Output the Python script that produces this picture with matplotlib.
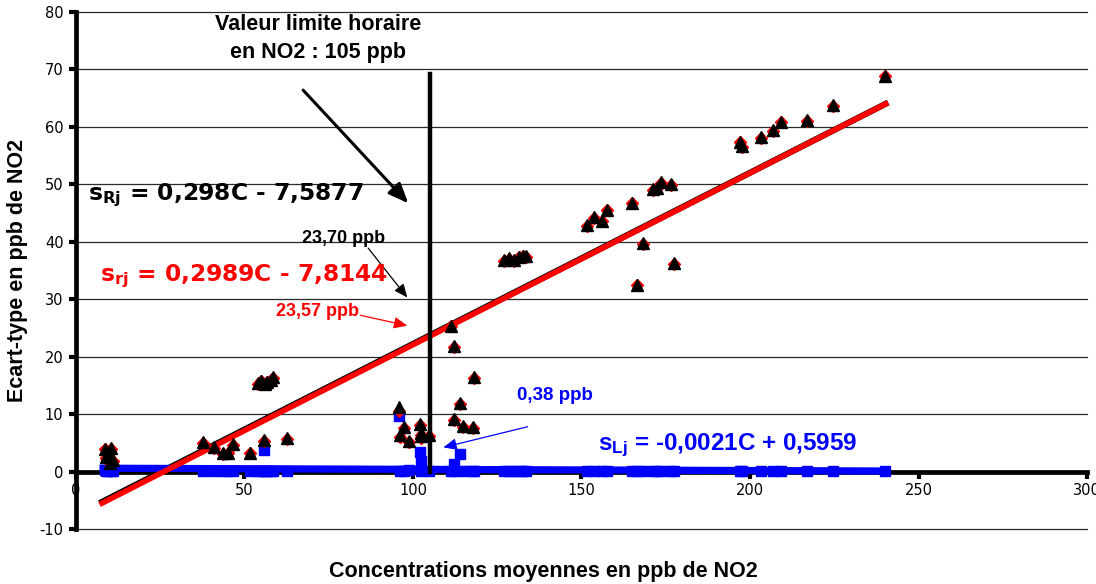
import matplotlib
matplotlib.use("Agg")
import matplotlib.pyplot as plt
import numpy as np

plt.rcParams['font.family'] = ['Liberation Sans', 'DejaVu Sans']
plt.rcParams['mathtext.fontset'] = 'custom'
plt.rcParams['mathtext.rm'] = 'DejaVu Sans:bold'
plt.rcParams['mathtext.it'] = 'DejaVu Sans:bold'
plt.rcParams['mathtext.bf'] = 'DejaVu Sans:bold'
plt.rcParams['mathtext.sf'] = 'Liberation Sans:bold'
plt.rcParams['axes.unicode_minus'] = False

# Concentrations (ppb NO2)
conc = [8.5, 9.0, 9.5, 10.0, 10.5, 11.0,
        37.6, 41.0, 43.5, 45.0, 46.7, 51.7, 54.0, 55.0, 55.9, 56.0, 56.8, 57.8, 58.6, 62.5,
        96.0, 96.2, 97.4, 98.9, 102.2, 102.3, 102.5, 104.7,
        111.4, 112.1, 112.3, 114.1, 114.9, 117.9, 118.2,
        127.0, 128.4, 129.9, 131.4, 132.7, 133.5,
        151.7, 153.7, 156.2, 157.7, 164.9, 166.4, 168.4, 171.3, 172.3, 173.7, 176.5, 177.5,
        197.0, 197.6, 203.4, 206.7, 209.2, 216.9, 224.5, 240.0]
# Reproducibility standard deviation s_Rj
s_R = [4.0, 2.5, 3.0, 1.5, 4.1, 2.0,
       5.1, 4.2, 3.2, 3.3, 4.8, 3.3, 15.4, 15.8, 5.5, 15.3, 15.6, 16.0, 16.4, 5.8,
       11.2, 6.4, 7.8, 5.4, 8.3, 6.7, 6.1, 6.4,
       25.4, 9.2, 21.8, 12.0, 8.0, 7.7, 16.4,
       36.8, 37.1, 36.8, 37.4, 37.6, 37.5,
       42.9, 44.3, 43.7, 45.6, 46.8, 32.5, 39.7, 49.1, 49.4, 50.4, 50.0, 36.3,
       57.4, 56.6, 58.2, 59.4, 60.9, 61.2, 63.8, 68.9]
# Repeatability standard deviation s_rj (close to s_Rj)
s_r = [3.9, 2.4, 2.9, 1.4, 4.0, 1.9,
       5.0, 4.1, 3.1, 3.2, 4.7, 3.2, 15.3, 15.7, 5.3, 15.2, 15.5, 15.9, 16.3, 5.7,
       10.6, 6.0, 7.6, 5.2, 8.1, 6.3, 5.9, 6.2,
       25.3, 9.0, 21.7, 11.8, 7.8, 7.6, 16.3,
       36.7, 37.0, 36.7, 37.3, 37.5, 37.4,
       42.8, 44.2, 43.6, 45.5, 46.7, 32.4, 39.6, 49.0, 49.3, 50.3, 49.9, 36.2,
       57.3, 56.5, 58.1, 59.3, 60.8, 61.1, 63.7, 68.8]
# Between-laboratory standard deviation s_Lj
s_L = [0.2, 0.1, 0.1, 0.2, 0.1, 0.1,
       0.1, 0.1, 0.1, 0.1, 0.1, 0.1, 0.1, 0.1, 3.8, 0.1, 0.1, 0.1, 0.1, 0.1,
       9.6, 0.1, 0.1, 0.2, 3.4, 1.8, 0.1, 0.1,
       0.1, 1.3, 0.1, 3.0, 0.1, 0.1, 0.1,
       0.1, 0.1, 0.1, 0.1, 0.1, 0.1,
       0.1, 0.1, 0.1, 0.1, 0.1, 0.1, 0.1, 0.1, 0.1, 0.1, 0.1, 0.1,
       0.1, 0.1, 0.1, 0.1, 0.1, 0.1, 0.1, 0.1]

# Trend lines
fit_R = (0.298, -7.5877)
fit_r = (0.2989, -7.8144)
fit_L = (-0.0021, 0.5959)
fit_range = [7.0, 241.0]
limit_value = 105

EQ_FONT = ['DejaVu Sans']

fig = plt.figure(figsize=(10.96, 5.84), dpi=100)
ax = fig.add_axes([0.0693, 0.0942, 0.9225, 0.8853])
ax.set_xlim(0, 300)
ax.set_ylim(-10, 80)

ax.set_yticks(np.arange(-10, 81, 10))
ax.set_xticks(np.arange(0, 301, 50))
for yv in np.arange(-10, 81, 10):
    if yv != 0:
        ax.axhline(yv, color='#2a2a2a', lw=0.9, zorder=0, clip_on=False)

for s in ['top', 'right']:
    ax.spines[s].set_visible(False)
ax.spines['left'].set_linewidth(3.4)
ax.spines['bottom'].set_position(('data', 0))
ax.spines['bottom'].set_linewidth(3.4)
ax.spines['bottom'].set_zorder(1)
ax.tick_params(axis='both', direction='out', length=5, width=3, labelsize=10.5)
ax.tick_params(axis='y', pad=4)
ax.tick_params(axis='x', pad=3)
for lab in ax.get_xticklabels() + ax.get_yticklabels():
    lab.set_family(['DejaVu Sans'])

xs = np.array(fit_range)
ax.plot(xs, fit_R[0] * xs + fit_R[1], color='black', lw=4.4, zorder=2, solid_capstyle='butt')
ax.plot(xs, fit_r[0] * xs + fit_r[1], color='#ff0000', lw=4.0, zorder=3, solid_capstyle='butt')
ax.plot(xs, fit_L[0] * xs + fit_L[1], color='#0000ff', lw=5.2, zorder=2, solid_capstyle='butt')

ax.plot(conc, s_L, ls='none', marker='s', ms=6.5, color='#0000ff', mec='#0000ff', zorder=3)
ax.plot(conc, s_r, ls='none', marker='D', ms=6, color='#ff0000', mec='#ff0000', zorder=4)
ax.plot(conc, s_R, ls='none', marker='^', ms=8.5, color='black', mec='black', zorder=5)

ax.plot([limit_value, limit_value], [0, 69.2], color='black', lw=3.2, zorder=4)

ax.text(71.9, 77.9, 'Valeur limite horaire', ha='center', va='center',
        fontsize=15.5, fontweight='bold')
ax.text(71.9, 73.0, 'en NO2 : 105 ppb', ha='center', va='center',
        fontsize=15.5, fontweight='bold')
ax.annotate('', xy=(98.6, 46.7), xytext=(67.4, 66.4),
            arrowprops=dict(arrowstyle='-|>,head_length=1.2,head_width=0.5',
                            color='black', lw=2.2, shrinkA=0, shrinkB=0))

ax.text(3.6, 48.1, r'$\mathregular{s_{Rj}}$ = 0,298C - 7,5877', ha='left', va='center',
        fontsize=16.8, fontweight='bold', color='black', family=EQ_FONT)
ax.text(79.3, 40.6, '23,70 ppb', ha='center', va='center',
        fontsize=13, fontweight='bold', color='black')
ax.annotate('', xy=(98.3, 30.3), xytext=(86.7, 38.9),
            arrowprops=dict(arrowstyle='-|>,head_length=0.8,head_width=0.35',
                            color='black', lw=0.9, shrinkA=0, shrinkB=0))

ax.text(7.1, 34.0, r'$\mathregular{s_{rj}}$ = 0,2989C - 7,8144', ha='left', va='center',
        fontsize=16.8, fontweight='bold', color='#ff0000', family=EQ_FONT)
ax.text(71.6, 27.9, '23,57 ppb', ha='center', va='center',
        fontsize=13, fontweight='bold', color='#ff0000')
ax.annotate('', xy=(98.3, 25.4), xytext=(84.4, 27.2),
            arrowprops=dict(arrowstyle='-|>,head_length=0.8,head_width=0.35',
                            color='#ff0000', lw=0.9, shrinkA=0, shrinkB=0))

ax.text(142.0, 13.2, '0,38 ppb', ha='center', va='center',
        fontsize=13.5, fontweight='bold', color='#0000ff')
ax.annotate('', xy=(109.0, 4.2), xytext=(134.0, 7.8),
            arrowprops=dict(arrowstyle='-|>,head_length=0.8,head_width=0.35',
                            color='#0000ff', lw=0.9, shrinkA=0, shrinkB=0))
ax.text(155.0, 4.5, r'$\mathsf{s_{Lj}}$ = -0,0021C + 0,5959', ha='left', va='center',
        fontsize=17.5, fontweight='bold', color='#0000ff')

ax.set_ylabel('Ecart-type en ppb de NO2', fontsize=15.5, fontweight='bold')
ax.yaxis.set_label_coords(-0.0475, 0.5)
ax.set_xlabel('Concentrations moyennes en ppb de NO2', fontsize=15.5, fontweight='bold')
ax.xaxis.set_label_coords(0.462, -0.062)

fig.savefig('out.png', dpi=100)
